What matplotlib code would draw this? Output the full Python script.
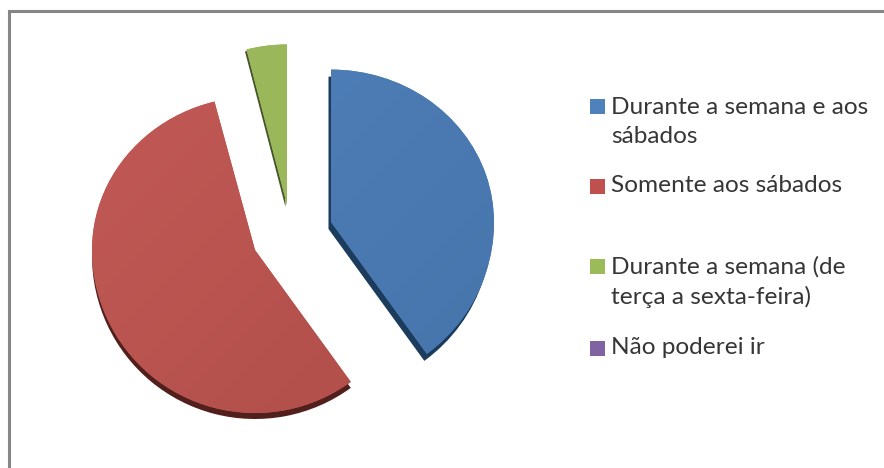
import numpy as np
import matplotlib
matplotlib.use('Agg')
import matplotlib.pyplot as plt
from matplotlib.path import Path
from matplotlib.patches import PathPatch, Rectangle

# pie data (percent)
labels = ['Durante a semana e aos\nsábados', 'Somente aos sábados',
          'Durante a semana (de\nterça a sexta-feira)', 'Não poderei ir']
values = [40.0, 56.0, 4.0, 0.0]

# style
legend_colors = ['#4f81bd', '#c0504d', '#9bbb59', '#8064a2']
light = ['#5080ba', '#c25a56', '#9cb85c']
dark = ['#4674ab', '#b04e49', '#98b658']
side = ['#1c3c5e', '#52201c', '#46552a']

H = 468
R = 163
# apex of each slice and how far its side shows, pixels
apex = [(331, 222), (255, 250), (287, 205)]
side_off = [(-2.5, 7), (0, 6), (-1.5, 2)]
top_squash = [0.935, 0.94, 0.985]

legend_y = [106, 186, 266, 348]
text_y = [122, 186, 282, 347]

plt.rcParams['font.family'] = ['Lato', 'DejaVu Sans']

fig = plt.figure(figsize=(8.84, 4.68), dpi=100)
ax = fig.add_axes([0, 0, 1, 1])

wedges, _ = ax.pie(values, startangle=90, counterclock=False, radius=R,
                   center=(0, 0), colors=legend_colors)

ax.set_xlim(0, 884)
ax.set_ylim(0, H)
ax.set_aspect('equal')
ax.axis('off')


def slice_path(w, i, dx=0, dy=0):
    # wedge outline moved to its apex, upper half a bit flattened (tilted pie)
    v = w.get_path().vertices.copy()
    v[:, 1] = np.where(v[:, 1] > 0, v[:, 1] * top_squash[i], v[:, 1])
    v[:, 0] += apex[i][0] + dx
    v[:, 1] += H - apex[i][1] - dy
    return Path(v, w.get_path().codes)


for i in range(3):
    w = wedges[i]
    ax.add_patch(PathPatch(slice_path(w, i, side_off[i][0], side_off[i][1]),
                           fc=side[i], ec='none', zorder=2))
    face = PathPatch(slice_path(w, i), fc=light[i], ec='none', zorder=3)
    ax.add_patch(face)
    # soft diagonal shading on the face
    c1 = np.array(matplotlib.colors.to_rgb(light[i]))
    c2 = np.array(matplotlib.colors.to_rgb(dark[i]))
    t = np.add.outer(np.linspace(0, 0.5, 64), np.linspace(0, 0.5, 64))
    img = c1 + t[..., None] * (c2 - c1)
    x0, y0 = apex[i][0] - R - 5, H - apex[i][1] - R - 5
    im = ax.imshow(img, extent=(x0, x0 + 2 * R + 10, y0, y0 + 2 * R + 10),
                   origin='upper', interpolation='bilinear', zorder=4,
                   aspect='auto')
    im.set_clip_path(face)
for w in wedges:
    w.remove()

ax.set_xlim(0, 884)
ax.set_ylim(0, H)

# legend
for i in range(len(labels)):
    ax.add_patch(Rectangle((589.5, H - legend_y[i] - 7.5), 15, 15,
                           fc=legend_colors[i], ec='none', zorder=5))
    ax.text(611, H - text_y[i], labels[i], fontsize=17.6, color='#363636',
            va='center', ha='left', linespacing=1.42, zorder=5)

# chart frame, runs off the right and bottom of the picture
ax.plot([8.5, 8.5, 884], [0, H - 10.5, H - 10.5], color='#868686', lw=2.2,
        solid_joinstyle='miter', clip_on=False, zorder=6)

fig.savefig('out.png', dpi=100, facecolor='white')
